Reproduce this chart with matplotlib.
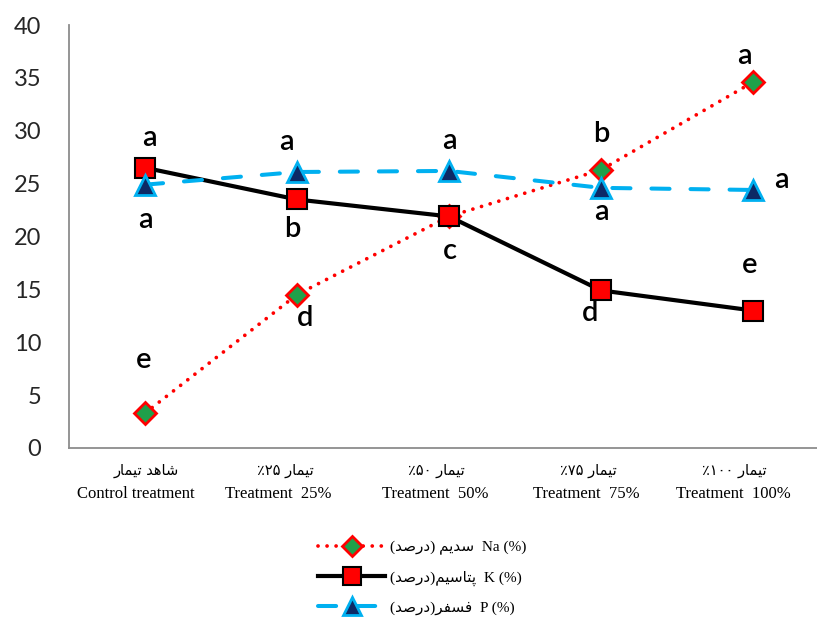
import numpy as np
import matplotlib
matplotlib.use('agg')
import matplotlib.pyplot as plt
import matplotlib.transforms as mtransforms

# data
categories = ['Control treatment', 'Treatment  25%', 'Treatment  50%', 'Treatment  75%', 'Treatment  100%']
na = [3.3, 14.5, 21.9, 26.3, 34.6]
k = [26.5, 23.5, 21.9, 14.9, 13.0]
p = [24.9, 26.1, 26.2, 24.6, 24.4]
na_letters = ['e', 'd', '', 'b', 'a']
k_letters = ['a', 'b', 'c', 'd', 'e']
p_letters = ['a', 'a', 'a', 'a', 'a']
yticks = [0, 5, 10, 15, 20, 25, 30, 35, 40]

# offsets (pixels) of the significance letters from their points
na_off = [(-1, 56), (8, -21), (0, 0), (0, 38), (-9, 29)]
k_off = [(4, 32), (-5, -27), (1, -32), (-11, -20), (-3, 48)]
p_off = [(0, -33), (-11, 32), (0, 32), (0, -22), (28, 12)]
# horizontal shift (pixels) of the category labels
fa_dx = [1, -12, -13, -13, -19]
en_dx = [-9, -19, -14, -15, -20]

# small arabic/persian shaper (matplotlib has no shaping, so use presentation forms)
FORMS = {
    'ا': ('\uFE8D', '\uFE8E', None, None),
    'د': ('\uFEA9', '\uFEAA', None, None),
    'ر': ('\uFEAD', '\uFEAE', None, None),
    'ت': ('\uFE95', '\uFE96', '\uFE97', '\uFE98'),
    'س': ('\uFEB1', '\uFEB2', '\uFEB3', '\uFEB4'),
    'ش': ('\uFEB5', '\uFEB6', '\uFEB7', '\uFEB8'),
    'ص': ('\uFEB9', '\uFEBA', '\uFEBB', '\uFEBC'),
    'ف': ('\uFED1', '\uFED2', '\uFED3', '\uFED4'),
    'م': ('\uFEE1', '\uFEE2', '\uFEE3', '\uFEE4'),
    'ه': ('\uFEE9', '\uFEEA', '\uFEEB', '\uFEEC'),
    'ی': ('\uFBFC', '\uFBFD', '\uFBFE', '\uFBFF'),
    'پ': ('\uFB56', '\uFB57', '\uFB58', '\uFB59'),
}

def shape(word):
    out = []
    for i, ch in enumerate(word):
        if ch not in FORMS:
            out.append(ch)
            continue
        prev = word[i-1] if i > 0 else None
        nxt = word[i+1] if i + 1 < len(word) else None
        jp = prev in FORMS and FORMS[prev][2] is not None
        jn = FORMS[ch][2] is not None and nxt in FORMS
        iso, fin, ini, med = FORMS[ch]
        if jp and jn:
            out.append(med)
        elif jp:
            out.append(fin)
        elif jn:
            out.append(ini)
        else:
            out.append(iso)
    return ''.join(reversed(out))

fa_labels = [shape('تیمار') + ' ' + shape('شاهد'),
             '٪۲۵ ' + shape('تیمار'),
             '٪۵۰ ' + shape('تیمار'),
             '٪۷۵ ' + shape('تیمار'),
             '٪۱۰۰ ' + shape('تیمار')]
pct = '(' + shape('درصد') + ')'
leg_na = pct + ' ' + shape('سدیم') + '  Na (%)'
leg_k = pct + shape('پتاسیم') + '  K (%)'
leg_p = pct + shape('فسفر') + '  P (%)'

W, H = 817, 621
fig = plt.figure(figsize=(W/100, H/100), dpi=100)
ax = fig.add_axes([69/W, 1 - 448/H, 760/W, (448 - 25)/H])
x = np.arange(len(categories))

l1, = ax.plot(x, na, color='red', lw=2.7, linestyle=(0, (0.01, 2.4)), dash_capstyle='round',
              marker='D', ms=11.5, mfc='#1fa04a', mec='red', mew=2, zorder=3)
l2, = ax.plot(x, k, color='black', lw=3, marker='s', ms=15, mfc='red', mec='black', mew=1.5, zorder=4)
l3, = ax.plot(x, p, color='#00b0f0', lw=2.9, linestyle=(0, (4.5, 5.2)), dash_capstyle='round',
              marker='^', ms=15, mfc='#0d2a66', mec='#00b0f0', mew=2, zorder=5)

for vals, lets, offs in [(na, na_letters, na_off), (k, k_letters, k_off), (p, p_letters, p_off)]:
    for i in range(len(vals)):
        if not lets[i]:
            continue
        ax.annotate(lets[i], (x[i], vals[i]), xytext=offs[i], textcoords='offset pixels',
                    ha='center', va='center_baseline', fontsize=21, family='Lato',
                    fontweight='semibold', color='black', zorder=6)

ax.set_xlim(-0.5, 4.5)
ax.set_ylim(0, 40)
ax.set_yticks(yticks)
ax.set_xticks([])
ax.tick_params(axis='y', length=0, pad=20, labelsize=17, labelcolor='#262626')
for lab in ax.get_yticklabels():
    lab.set_family('Lato')
for s in ['top', 'right']:
    ax.spines[s].set_visible(False)
for s in ['left', 'bottom']:
    ax.spines[s].set_color('#8c8c8c')
    ax.spines[s].set_linewidth(1.3)

for i in range(len(categories)):
    t_fa = mtransforms.offset_copy(ax.transData, fig=fig, x=fa_dx[i], y=-23, units='dots')
    t_en = mtransforms.offset_copy(ax.transData, fig=fig, x=en_dx[i], y=-46, units='dots')
    ax.text(x[i], 0, fa_labels[i], transform=t_fa, ha='center', va='center',
            fontsize=10.5, family=['DejaVu Sans'], clip_on=False)
    ax.text(x[i], 0, categories[i], transform=t_en, ha='center', va='center',
            fontsize=12, family=['Liberation Serif', 'DejaVu Sans'], clip_on=False)

leg = fig.legend([l1, l2, l3], [leg_na, leg_k, leg_p], loc='center',
                 bbox_to_anchor=(422/W, 1 - 578/H), frameon=False, numpoints=1,
                 handlelength=4.4, handletextpad=0.3, labelspacing=1.0, markerscale=0.85,
                 prop={'family': ['Liberation Serif', 'DejaVu Sans'], 'size': 11})

fig.savefig('out.png', dpi=100)
